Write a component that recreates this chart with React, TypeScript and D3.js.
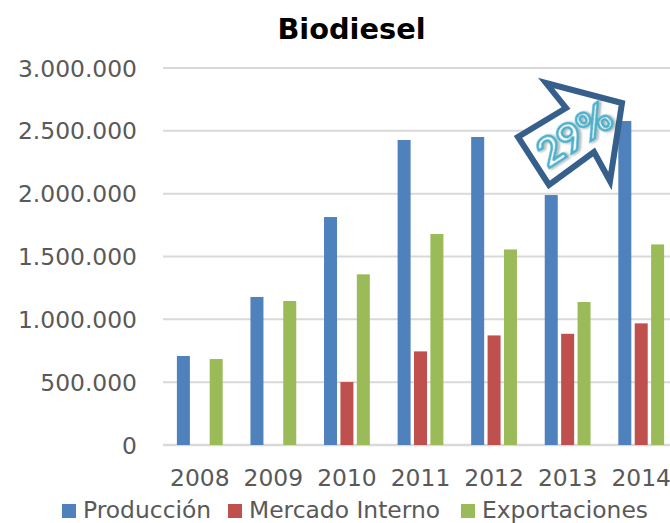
import * as d3 from 'd3'

const years = ['2008', '2009', '2010', '2011', '2012', '2013', '2014']
const produccion = [708000, 1178000, 1814000, 2427000, 2451000, 1989000, 2578000]
const mercadoInterno = [0, 0, 501000, 745000, 872000, 885000, 968000]
const exportaciones = [684000, 1146000, 1358000, 1679000, 1556000, 1138000, 1596000]
const yTicks = [0, 500000, 1000000, 1500000, 2000000, 2500000, 3000000]
const arrowPoints = [[622, 103], [610, 181], [594, 152], [549, 185], [518, 137], [566, 108], [546, 83]]

const series = [
  { name: 'Producción', values: produccion, color: '#4F81BD', legendX: 62 },
  { name: 'Mercado Interno', values: mercadoInterno, color: '#C0504D', legendX: 228 },
  { name: 'Exportaciones', values: exportaciones, color: '#9BBB59', legendX: 461 },
]

const W = 670
const H = 523
const FONT = '"DejaVu Sans", Verdana, sans-serif'
const TEXT = '#595959'

const fmt = (v: number) => d3.format(',')(v).replace(/,/g, '.')

export default function App() {
  const x = d3.scaleBand().domain(years).range([163, 678])
  const y = d3.scaleLinear().domain([0, 3000000]).range([445, 68])
  const barW = 13
  const barStep = 16.4

  return (
    <svg width={W} height={H} style={{ position: 'absolute', left: 0, top: 0, background: '#fff' }} fontFamily={FONT}>
      <defs>
        <filter id="shadow" x="-20%" y="-20%" width="140%" height="140%">
          <feDropShadow dx="1.5" dy="1.5" stdDeviation="1" floodColor="#000" floodOpacity="0.35" />
        </filter>
      </defs>

      <text x={351.5} y={39} textAnchor="middle" fontSize={28.8} fontWeight="bold" fill="#000">Biodiesel</text>

      {/* grid + y labels */}
      {yTicks.map(t => (
        <g key={t}>
          <line x1={163} x2={W} y1={y(t)} y2={y(t)} stroke="#D9D9D9" strokeWidth={t === 0 ? 2.5 : 2} />
          <text x={137} y={y(t) + 8.5} textAnchor="end" fontSize={23.4} fill={TEXT}>{fmt(t)}</text>
        </g>
      ))}

      {/* bars */}
      {series.map((s, i) => (
        <g key={s.name}>
          {s.values.map((v, j) => {
            if (!v) return null
            const cx = x(years[j])! + x.bandwidth() / 2 + (i - 1) * barStep
            return <rect key={years[j]} x={cx - barW / 2} y={y(v)} width={barW} height={y(0) - y(v)} fill={s.color} />
          })}
        </g>
      ))}

      {/* x labels */}
      {years.map(yr => (
        <text key={yr} x={x(yr)! + x.bandwidth() / 2} y={486} textAnchor="middle" fontSize={23.4} fill={TEXT}>{yr}</text>
      ))}

      {/* legend */}
      {series.map(s => (
        <g key={s.name}>
          <rect x={s.legendX} y={504} width={14} height={14} fill={s.color} />
          <text x={s.legendX + 21} y={518} fontSize={23.4} fill={TEXT}>{s.name}</text>
        </g>
      ))}

      {/* arrow callout */}
      <polygon
        points={arrowPoints.map(p => p.join(',')).join(' ')}
        fill="#fff"
        stroke="#375F8C"
        strokeWidth={6}
        strokeLinejoin="miter"
        strokeMiterlimit={10}
      />
      <text
        transform="translate(574,134) rotate(-33)"
        textAnchor="middle"
        dy={15}
        fontFamily="Lato, sans-serif"
        fontSize={41}
        fontWeight={700}
        fill="#FFFFFF"
        stroke="#4BB0C9"
        strokeWidth={2.6}
        filter="url(#shadow)"
      >
        29%
      </text>
    </svg>
  )
}
